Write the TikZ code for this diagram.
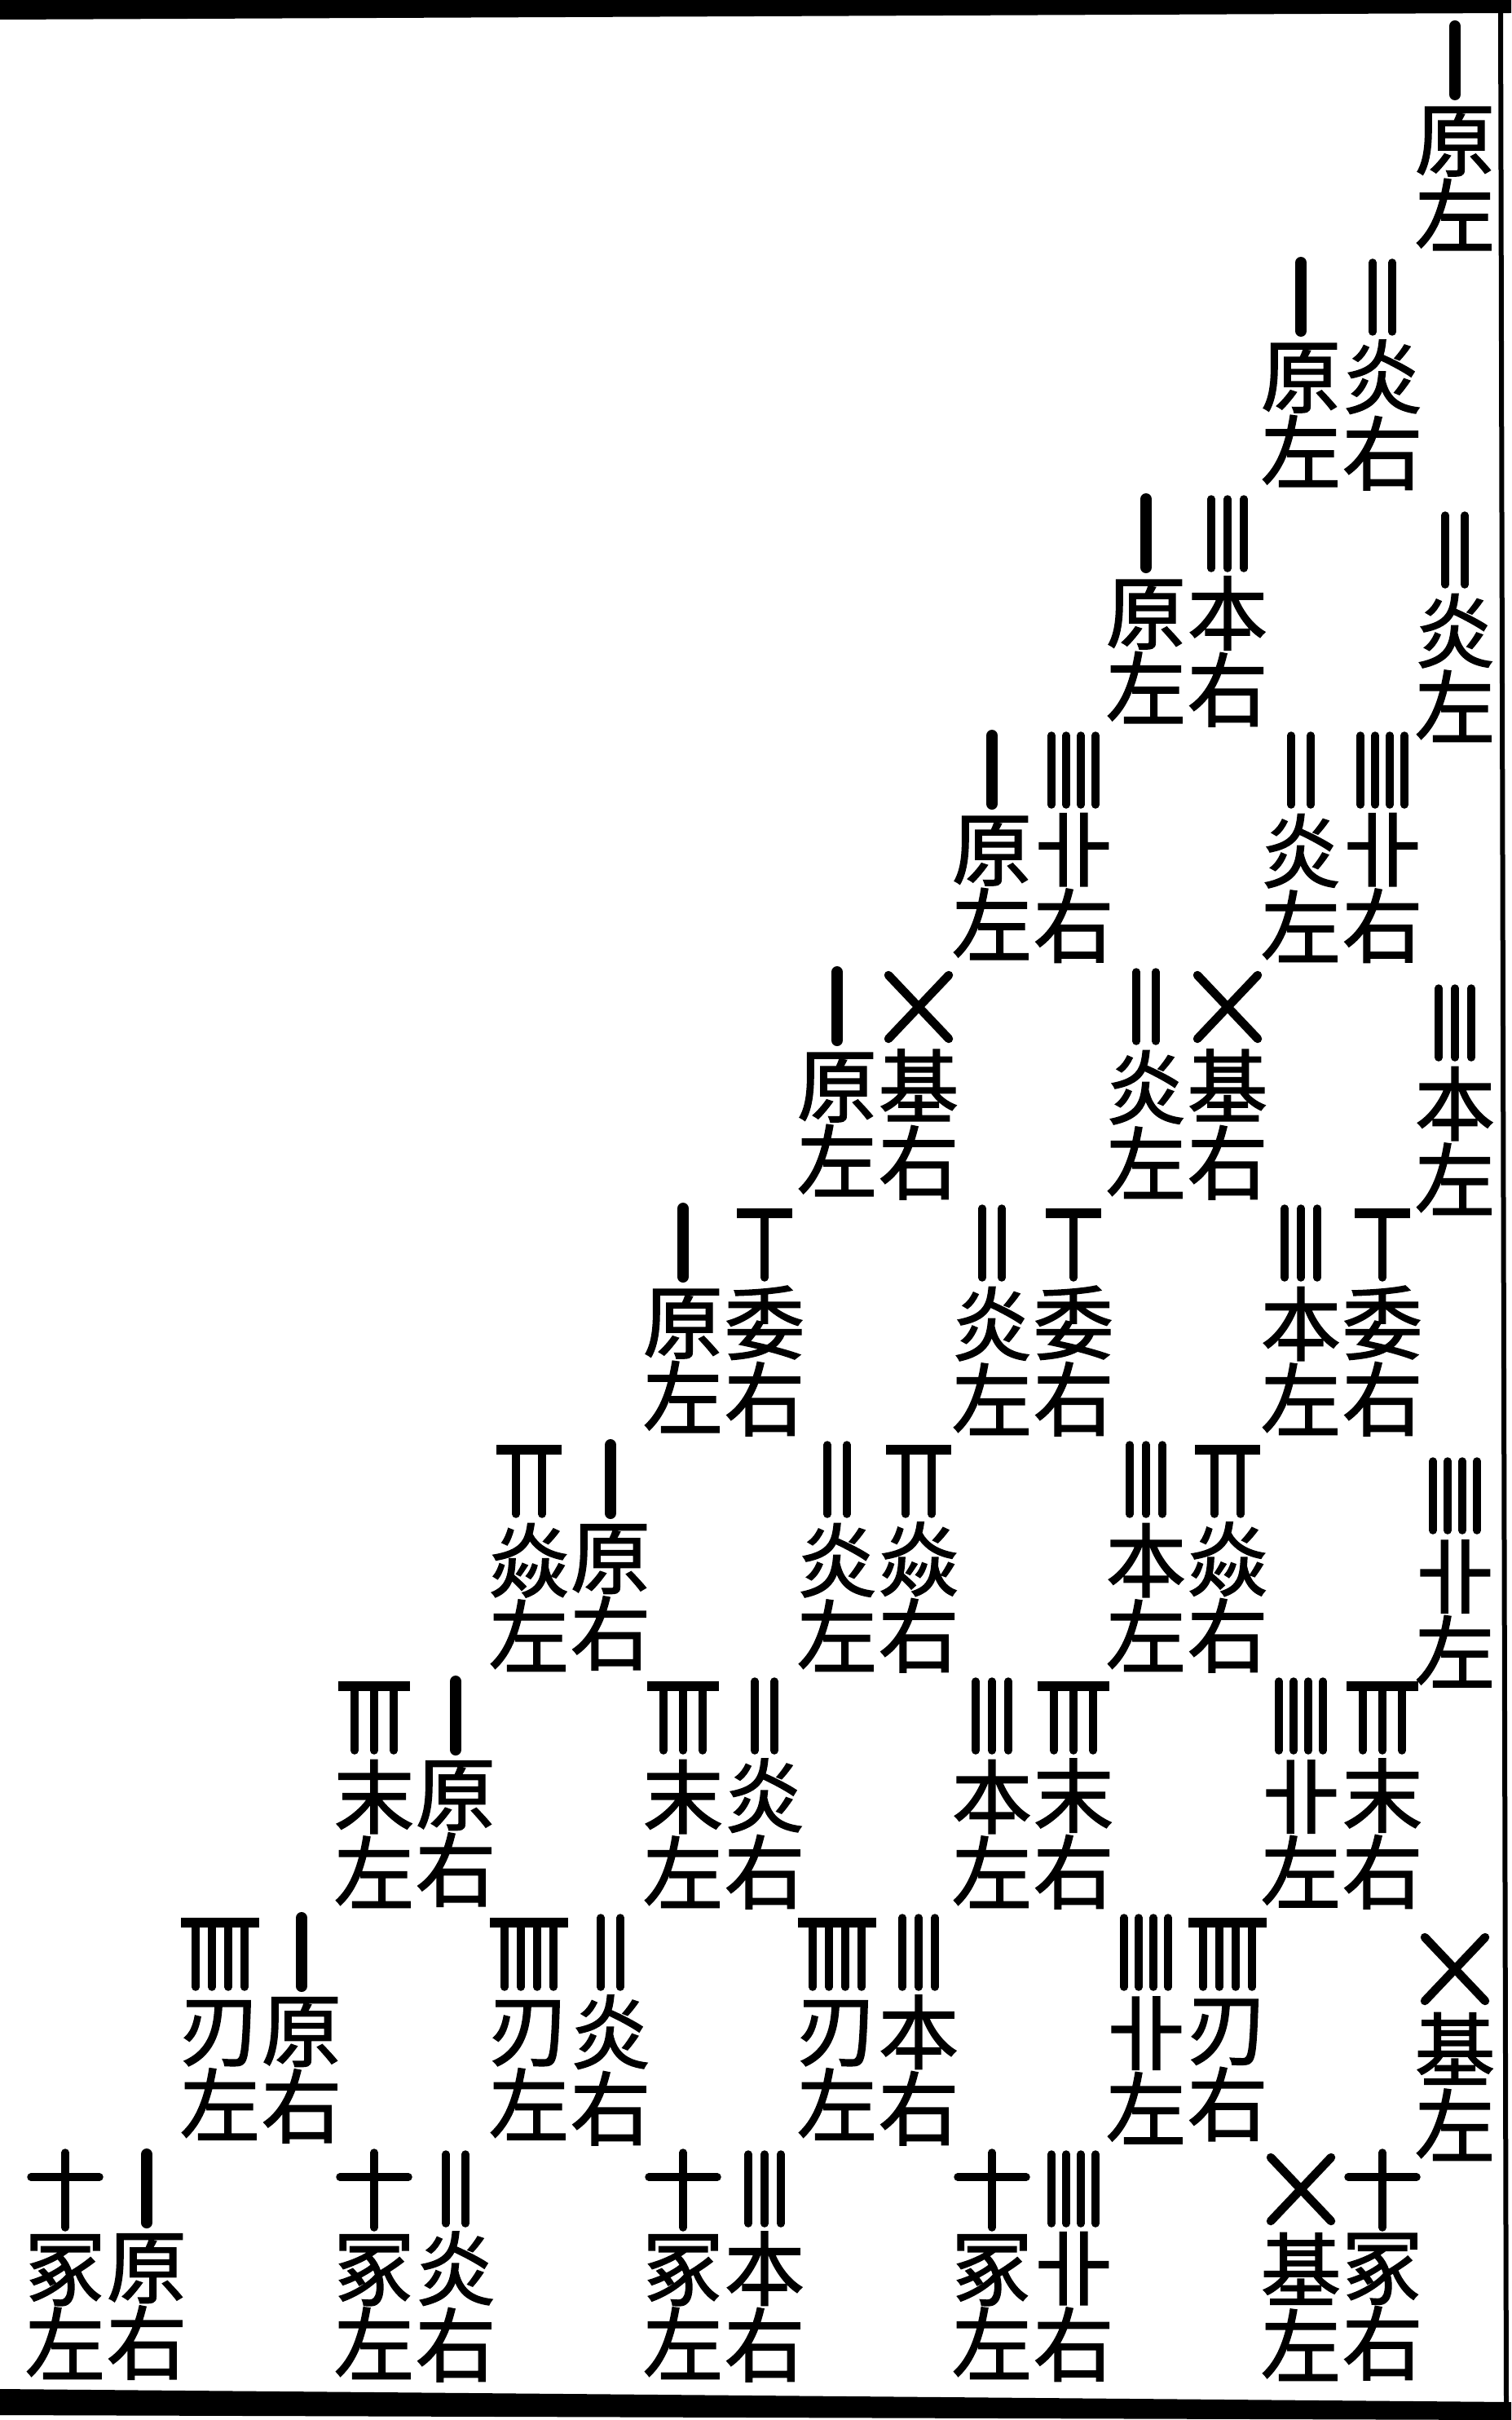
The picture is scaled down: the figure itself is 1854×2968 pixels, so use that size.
\documentclass[tikz,border=0pt]{standalone}
\usepackage{fontspec}
\newfontfamily\hz[FakeBold=1.6]{Noto Sans CJK SC}
\usepackage{tikz}
\tikzset{
  ink/.style={fill=black, draw=none},
  hanzi/.style={font=\hz\fontsize{28}{26.6}\selectfont, align=center, inner sep=0pt},
  rodfat/.style={line width=1.4mm, line cap=round},
  rodthin/.style={line width=0.95mm, line cap=round},
  rodcross/.style={line width=1.05mm, line cap=round},
  rodbeam/.style={line width=1.2mm, line cap=butt},
  rod1/.pic={\draw[rodfat] (0,2) -- (0,86);},
  rod2/.pic={\draw[rodthin] (-12,2) -- (-12,87) (12,2) -- (12,87);},
  rod3/.pic={\draw[rodthin] (-20,2) -- (-20,87) (0,2) -- (0,87) (20,2) -- (20,87);},
  rod4/.pic={\draw[rodthin] (-27,2) -- (-27,87) (-9,2) -- (-9,87) (9,2) -- (9,87) (27,2) -- (27,87);},
  rod5/.pic={\draw[rodcross] (-37,6) -- (37,84) (37,6) -- (-37,84);},
  rod6/.pic={\draw[rodbeam] (-34,8) -- (34,8); \draw[rodthin] (0,8) -- (0,87);},
  rod7/.pic={\draw[rodbeam] (-40,8) -- (40,8); \draw[rodthin] (-16,8) -- (-16,87) (16,8) -- (16,87);},
  rod8/.pic={\draw[rodbeam] (-44,8) -- (44,8); \draw[rodthin] (-24,8) -- (-24,87) (0,8) -- (0,87) (24,8) -- (24,87);},
  rod9/.pic={\draw[rodbeam] (-48,8) -- (48,8); \draw[rodthin] (-30,8) -- (-30,87) (-10,8) -- (-10,87) (10,8) -- (10,87) (30,8) -- (30,87);},
  rod10/.pic={\draw[rodthin] (-42,30) -- (42,30) (0,0) -- (0,92);},
}
% one column: name, x, top of rod, rod, two characters
\newcommand{\hcol}[5]{%
  \pic at (#2,#3) {#4};
  \node[hanzi] (#1) at (#2,#3+189) {#5};
}

\begin{document}
\begin{tikzpicture}[x=0.1mm, y=-0.1mm]
  \useasboundingbox (0,0) rectangle (1854,2968);
  % frame
  \fill[ink] (0,0) -- (1854,0) -- (1854,16) -- (0,24) -- cycle;
  \fill[ink] (0,2930) -- (1854,2946) -- (1854,2968) -- (0,2962) -- cycle;
  \draw[line width=0.6mm] (1841,10) -- (1848,2950);
  % row 0
  \hcol{r0s}{1785}{30}{rod1}{原\\左}
  % row 1
  \hcol{r1aL}{1596}{320}{rod1}{原\\左}
  \hcol{r1aR}{1696}{320}{rod2}{炎\\右}
  % row 2
  \hcol{r2aL}{1406}{610}{rod1}{原\\左}
  \hcol{r2aR}{1506}{610}{rod3}{本\\右}
  \hcol{r2s}{1785}{630}{rod2}{炎\\左}
  % row 3
  \hcol{r3aL}{1217}{900}{rod1}{原\\左}
  \hcol{r3aR}{1317}{900}{rod4}{卝\\右}
  \hcol{r3bL}{1596}{900}{rod2}{炎\\左}
  \hcol{r3bR}{1696}{900}{rod4}{卝\\右}
  % row 4
  \hcol{r4aL}{1027}{1190}{rod1}{原\\左}
  \hcol{r4aR}{1127}{1190}{rod5}{基\\右}
  \hcol{r4bL}{1406}{1190}{rod2}{炎\\左}
  \hcol{r4bR}{1506}{1190}{rod5}{基\\右}
  \hcol{r4s}{1785}{1210}{rod3}{本\\左}
  % row 5
  \hcol{r5aL}{838}{1480}{rod1}{原\\左}
  \hcol{r5aR}{938}{1480}{rod6}{委\\右}
  \hcol{r5bL}{1217}{1480}{rod2}{炎\\左}
  \hcol{r5bR}{1317}{1480}{rod6}{委\\右}
  \hcol{r5cL}{1596}{1480}{rod3}{本\\左}
  \hcol{r5cR}{1696}{1480}{rod6}{委\\右}
  % row 6
  \hcol{r6aL}{649}{1770}{rod7}{焱\\左}
  \hcol{r6aR}{749}{1770}{rod1}{原\\右}
  \hcol{r6bL}{1027}{1770}{rod2}{炎\\左}
  \hcol{r6bR}{1127}{1770}{rod7}{焱\\右}
  \hcol{r6cL}{1406}{1770}{rod3}{本\\左}
  \hcol{r6cR}{1506}{1770}{rod7}{焱\\右}
  \hcol{r6s}{1785}{1790}{rod4}{卝\\左}
  % row 7
  \hcol{r7aL}{459}{2060}{rod8}{末\\左}
  \hcol{r7aR}{559}{2060}{rod1}{原\\右}
  \hcol{r7bL}{838}{2060}{rod8}{末\\左}
  \hcol{r7bR}{938}{2060}{rod2}{炎\\右}
  \hcol{r7cL}{1217}{2060}{rod3}{本\\左}
  \hcol{r7cR}{1317}{2060}{rod8}{末\\右}
  \hcol{r7dL}{1596}{2060}{rod4}{卝\\左}
  \hcol{r7dR}{1696}{2060}{rod8}{末\\右}
  % row 8
  \hcol{r8aL}{270}{2350}{rod9}{刃\\左}
  \hcol{r8aR}{370}{2350}{rod1}{原\\右}
  \hcol{r8bL}{649}{2350}{rod9}{刃\\左}
  \hcol{r8bR}{749}{2350}{rod2}{炎\\右}
  \hcol{r8cL}{1027}{2350}{rod9}{刃\\左}
  \hcol{r8cR}{1127}{2350}{rod3}{本\\右}
  \hcol{r8dL}{1406}{2350}{rod4}{卝\\左}
  \hcol{r8dR}{1506}{2350}{rod9}{刃\\右}
  \hcol{r8s}{1785}{2370}{rod5}{基\\左}
  % row 9
  \hcol{r9aL}{80}{2640}{rod10}{冢\\左}
  \hcol{r9aR}{180}{2640}{rod1}{原\\右}
  \hcol{r9bL}{459}{2640}{rod10}{冢\\左}
  \hcol{r9bR}{559}{2640}{rod2}{炎\\右}
  \hcol{r9cL}{838}{2640}{rod10}{冢\\左}
  \hcol{r9cR}{938}{2640}{rod3}{本\\右}
  \hcol{r9dL}{1217}{2640}{rod10}{冢\\左}
  \hcol{r9dR}{1317}{2640}{rod4}{卝\\右}
  \hcol{r9eL}{1596}{2640}{rod5}{基\\左}
  \hcol{r9eR}{1696}{2640}{rod10}{冢\\右}
\end{tikzpicture}
\end{document}
